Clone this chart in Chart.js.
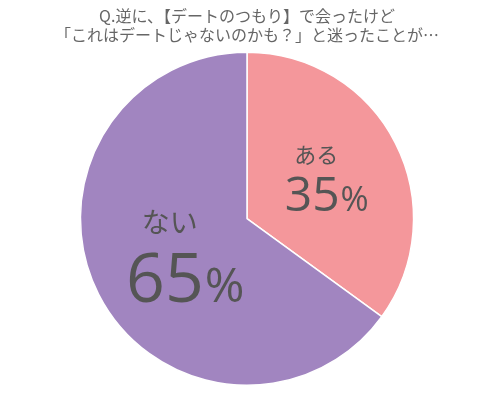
<!DOCTYPE html>
<html lang="ja">
  <head>
    <meta charset="UTF-8" />
    <title>デートのつもりで会ったけど</title>
    <script src="https://cdn.jsdelivr.net/npm/chart.js@4/dist/chart.umd.min.js"></script>
    <style>
      html, body { margin: 0; padding: 0; background: #fff; }
      #wrap { width: 500px; height: 403px; }
    </style>
  </head>
  <body>
    <div id="wrap"><canvas id="myChart"></canvas></div>
    <script>
      // data
      const titleLines = ["Q.逆に、【デートのつもり】で会ったけど", "「これはデートじゃないのかも？」と迷ったことが…"];
      const labels = ["ある", "ない"];
      const values = [35, 65];
      const colors = ["#f4979b", "#a185c0"];

      // label sizes and offsets per slice
      const labelStyle = [
        { name: 22, num: 48, pct: 34, nameDx: -5, nameDy: -26, numDx: 5, numDy: 13 },
        { name: 28, num: 68, pct: 48, nameDx: -3, nameDy: -34, numDx: 12, numDy: 21 },
      ];

      const sliceLabels = {
        id: "sliceLabels",
        afterDatasetsDraw(chart) {
          const ctx = chart.ctx;
          const meta = chart.getDatasetMeta(0);
          meta.data.forEach((arc, i) => {
            const p = arc.tooltipPosition();
            const s = labelStyle[i];
            ctx.save();
            ctx.fillStyle = "#555";
            ctx.textBaseline = "middle";
            ctx.textAlign = "center";
            ctx.font = s.name + "px 'Noto Sans CJK JP'";
            ctx.fillText(labels[i], p.x + s.nameDx, p.y + s.nameDy);

            // number + smaller percent sign
            const numText = String(values[i]);
            ctx.font = "500 " + s.num + "px 'Open Sans'";
            const wNum = ctx.measureText(numText).width;
            ctx.font = s.pct + "px 'Open Sans'";
            const wPct = ctx.measureText("%").width;
            const x0 = p.x + s.numDx - (wNum + wPct) / 2;
            ctx.textAlign = "left";
            ctx.textBaseline = "alphabetic";
            const base = p.y + s.numDy + s.num * 0.36;
            ctx.font = "500 " + s.num + "px 'Open Sans'";
            ctx.fillText(numText, x0, base);
            ctx.font = s.pct + "px 'Open Sans'";
            ctx.fillText("%", x0 + wNum + 1, base);
            ctx.restore();
          });
        },
      };

      new Chart(document.getElementById("myChart"), {
        type: "pie",
        data: {
          labels: labels,
          datasets: [
            {
              data: values,
              backgroundColor: colors,
              borderColor: "#ffffff",
              borderWidth: 1.5,
            },
          ],
        },
        options: {
          responsive: true,
          maintainAspectRatio: false,
          animation: false,
          layout: { padding: { left: 0, right: 6, top: 0, bottom: 17 } },
          plugins: {
            legend: { display: false },
            tooltip: { enabled: false },
            title: {
              display: true,
              text: titleLines,
              color: "#666",
              font: { size: 16, family: "'Noto Sans CJK JP'", weight: "normal", lineHeight: 1.2 },
              padding: { top: 6, bottom: 7 },
            },
          },
        },
        plugins: [sliceLabels],
      });
    </script>
  </body>
</html>
